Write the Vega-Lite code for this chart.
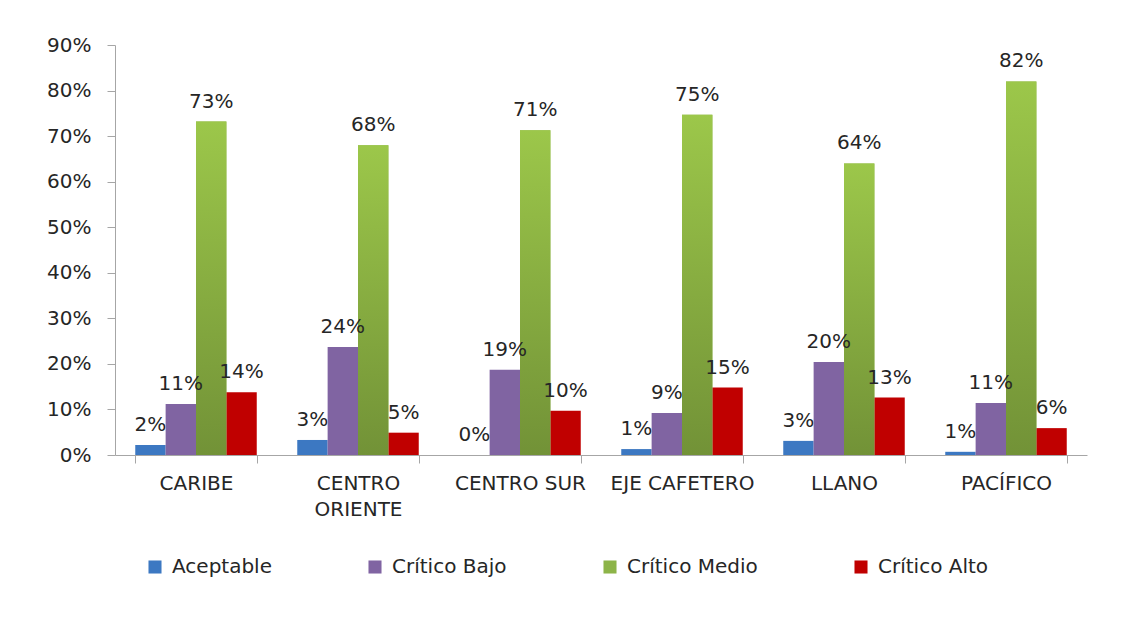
{
  "$schema": "https://vega.github.io/schema/vega-lite/v6.json",
  "autosize": {"type": "none"},
  "width": 972,
  "height": 410,
  "padding": {"left": 115, "top": 45, "right": 46, "bottom": 168},
  "background": "white",
  "config": {
    "view": {"stroke": null},
    "font": "DejaVu Sans",
    "axis": {"labelFont": "DejaVu Sans", "labelFontSize": 20, "labelColor": "#262626", "domainColor": "#a6a6a6", "tickColor": "#a6a6a6", "grid": false, "title": null}
  },
  "data": {
    "values": [
      {"region": "CARIBE", "nivel": "Aceptable", "valor": 0.022},
      {"region": "CARIBE", "nivel": "Crítico Bajo", "valor": 0.112},
      {"region": "CARIBE", "nivel": "Crítico Medio", "valor": 0.732},
      {"region": "CARIBE", "nivel": "Crítico Alto", "valor": 0.138},
      {"region": "CENTRO ORIENTE", "nivel": "Aceptable", "valor": 0.033},
      {"region": "CENTRO ORIENTE", "nivel": "Crítico Bajo", "valor": 0.237},
      {"region": "CENTRO ORIENTE", "nivel": "Crítico Medio", "valor": 0.68},
      {"region": "CENTRO ORIENTE", "nivel": "Crítico Alto", "valor": 0.049},
      {"region": "CENTRO SUR", "nivel": "Aceptable", "valor": 0.0},
      {"region": "CENTRO SUR", "nivel": "Crítico Bajo", "valor": 0.187},
      {"region": "CENTRO SUR", "nivel": "Crítico Medio", "valor": 0.713},
      {"region": "CENTRO SUR", "nivel": "Crítico Alto", "valor": 0.097},
      {"region": "EJE CAFETERO", "nivel": "Aceptable", "valor": 0.013},
      {"region": "EJE CAFETERO", "nivel": "Crítico Bajo", "valor": 0.092},
      {"region": "EJE CAFETERO", "nivel": "Crítico Medio", "valor": 0.747},
      {"region": "EJE CAFETERO", "nivel": "Crítico Alto", "valor": 0.148},
      {"region": "LLANO", "nivel": "Aceptable", "valor": 0.031},
      {"region": "LLANO", "nivel": "Crítico Bajo", "valor": 0.204},
      {"region": "LLANO", "nivel": "Crítico Medio", "valor": 0.64},
      {"region": "LLANO", "nivel": "Crítico Alto", "valor": 0.126},
      {"region": "PACÍFICO", "nivel": "Aceptable", "valor": 0.007},
      {"region": "PACÍFICO", "nivel": "Crítico Bajo", "valor": 0.114},
      {"region": "PACÍFICO", "nivel": "Crítico Medio", "valor": 0.82},
      {"region": "PACÍFICO", "nivel": "Crítico Alto", "valor": 0.059}
    ]
  },
  "encoding": {
    "x": {
      "field": "region", "type": "nominal", "sort": null,
      "scale": {"paddingInner": 0.25, "paddingOuter": 0.125},
      "axis": {"labelAngle": 0, "tickBand": "extent", "tickSize": 8, "labelPadding": 10,
        "labelLineHeight": 26, "labelBaseline": "top",
        "labelExpr": "datum.value == 'CENTRO ORIENTE' ? ['CENTRO', 'ORIENTE'] : datum.value"}
    },
    "xOffset": {
      "field": "nivel", "type": "nominal",
      "scale": {"domain": ["Aceptable", "Crítico Bajo", "Crítico Medio", "Crítico Alto"], "paddingInner": 0, "paddingOuter": 0}
    },
    "y": {
      "field": "valor", "type": "quantitative",
      "scale": {"domain": [0, 0.9], "nice": false},
      "axis": {"format": ".0%", "values": [0, 0.1, 0.2, 0.3, 0.4, 0.5, 0.6, 0.7, 0.8, 0.9], "tickSize": 8, "labelPadding": 16}
    }
  },
  "layer": [
    {
      "mark": {"type": "bar"},
      "encoding": {
        "color": {
          "field": "nivel", "type": "nominal",
          "scale": {"domain": ["Aceptable", "Crítico Bajo", "Crítico Medio", "Crítico Alto"], "range": ["#3C78C2", "#8064A2", "#8DB448", "#C00000"]},
          "legend": {
            "title": null, "orient": "none", "direction": "horizontal",
            "legendX": 30, "legendY": 512,
            "symbolType": "square", "symbolSize": 170, "symbolStrokeWidth": 0,
            "labelFont": "DejaVu Sans", "labelFontSize": 20, "labelColor": "#262626",
            "labelOffset": 7, "columnPadding": 93, "labelLimit": 300
          }
        }
      }
    },
    {
      "transform": [{"filter": "datum.nivel == 'Crítico Medio'"}],
      "mark": {
        "type": "bar",
        "fill": {"gradient": "linear", "x1": 0, "y1": 0, "x2": 0, "y2": 1,
          "stops": [{"offset": 0, "color": "#9CC74A"}, {"offset": 1, "color": "#729237"}]}
      }
    },
    {
      "mark": {"type": "text", "baseline": "alphabetic", "dy": -14, "fontSize": 20, "font": "DejaVu Sans", "color": "#262626"},
      "encoding": {
        "text": {"field": "valor", "type": "quantitative", "format": ".0%"}
      }
    }
  ]
}
